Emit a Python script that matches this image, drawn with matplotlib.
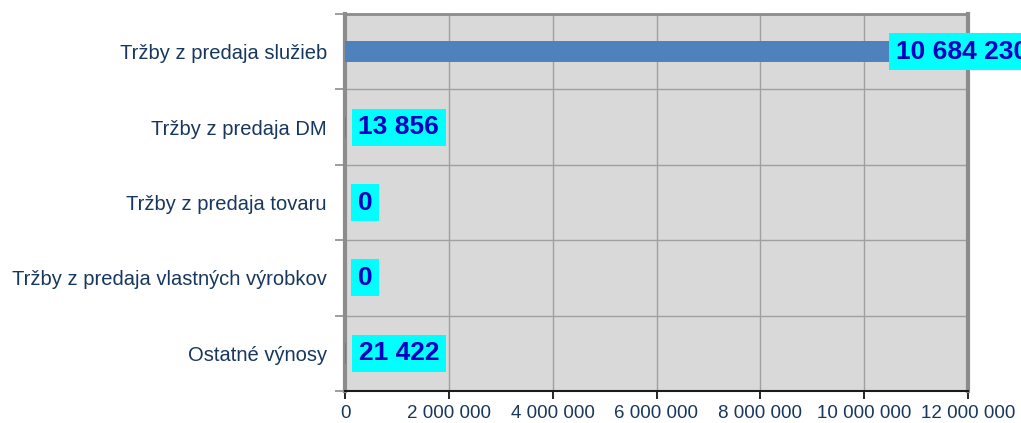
import matplotlib
matplotlib.use("Agg")
import matplotlib.pyplot as plt
from matplotlib.ticker import FuncFormatter, MultipleLocator

plt.rcParams['font.family'] = ['Liberation Sans', 'DejaVu Sans']

categories = [
    "Tržby z predaja služieb",
    "Tržby z predaja DM",
    "Tržby z predaja tovaru",
    "Tržby z predaja vlastných výrobkov",
    "Ostatné výnosy",
]
values = [10684230, 13856, 0, 0, 21422]
label_texts = ["10 684 230", "13 856", "0", "0", "21 422"]
x_max = 12000000
x_step = 2000000

W, H = 1021, 423
fig = plt.figure(figsize=(W / 100, H / 100), dpi=100)
ax = fig.add_axes([345 / W, 1 - 391 / H, (968 - 345) / W, (391 - 14) / H])
ax.set_facecolor('#D9D9D9')

n = len(categories)
ypos = list(range(n - 1, -1, -1))
ax.barh(ypos, values, height=0.28, color='#4F81BD', zorder=3)

ax.set_xlim(0, x_max)
ax.set_ylim(-0.5, n - 0.5)
ax.xaxis.set_major_locator(MultipleLocator(x_step))
ax.xaxis.set_major_formatter(FuncFormatter(lambda v, p: f"{int(v):,}".replace(",", " ")))
ax.set_yticks(ypos)
ax.set_yticklabels(categories)
ax.set_yticks([i - 0.5 for i in range(n + 1)], minor=True)

txt_color = '#17375E'
ax.tick_params(axis='y', which='major', length=0, pad=13, labelsize=14.5, labelcolor=txt_color)
ax.tick_params(axis='y', which='minor', length=7, width=1.2, color='#8C8C8C', direction='out')
ax.tick_params(axis='x', which='major', length=6, width=1.2, color='black', pad=4,
               labelsize=13.5, labelcolor=txt_color)

ax.grid(axis='x', which='major', color='#A0A0A0', linewidth=1.0, zorder=1)
ax.grid(axis='y', which='minor', color='#A0A0A0', linewidth=1.0, zorder=1)
ax.set_axisbelow(True)

for side in ['left', 'right']:
    ax.spines[side].set_color('#8C8C8C')
    ax.spines[side].set_linewidth(3)
ax.spines['top'].set_color('#8C8C8C')
ax.spines['top'].set_linewidth(2)
ax.spines['bottom'].set_color('#1A1A1A')
ax.spines['bottom'].set_linewidth(1.5)

for y, v, t in zip(ypos, values, label_texts):
    off = -3 if v > 0.8 * x_max else 9
    ax.annotate(t, xy=(v, y), xytext=(off, 0), textcoords='offset points',
                ha='left', va='center', fontsize=19, fontweight='bold', color='#0000C0',
                bbox=dict(boxstyle='square,pad=0.25', facecolor='#00FFFF', edgecolor='none'),
                zorder=5, annotation_clip=False, clip_on=False)

fig.savefig('out.png', dpi=100)
